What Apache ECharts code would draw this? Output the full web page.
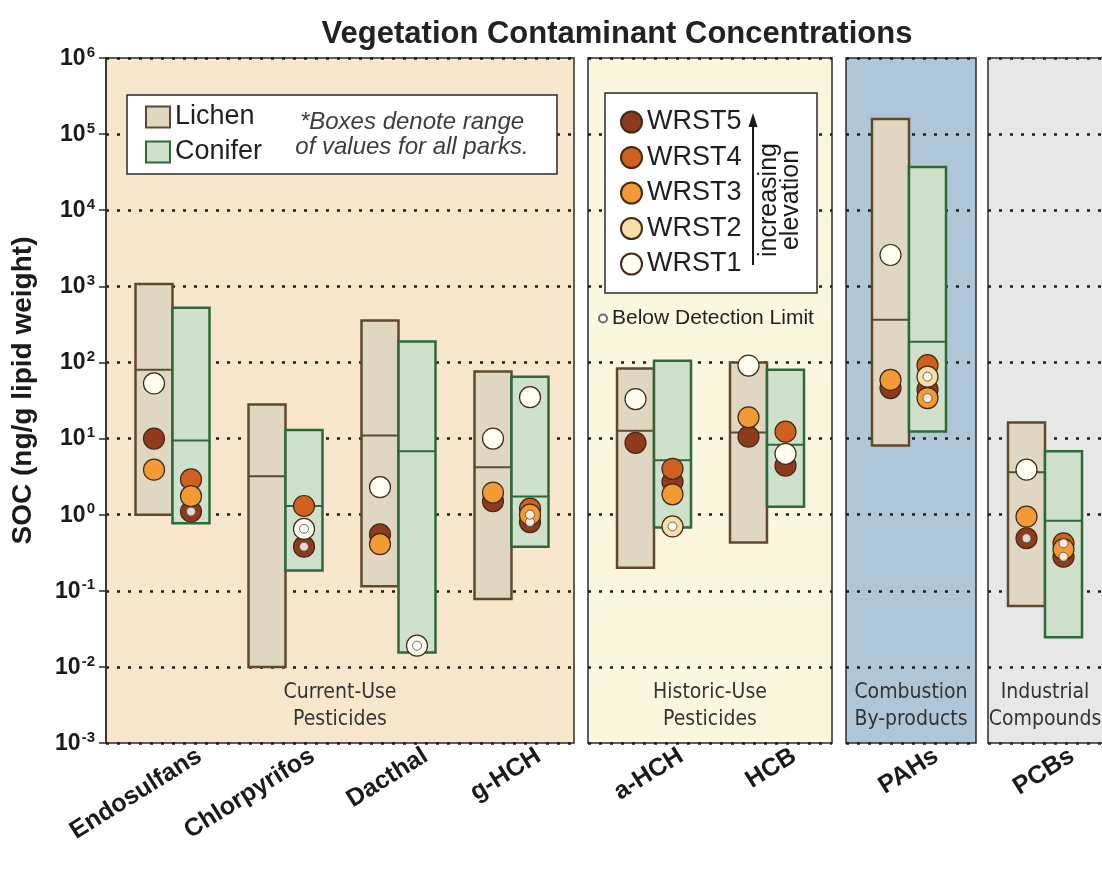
<!DOCTYPE html>
<html>
<head>
<meta charset="utf-8">
<title>Vegetation Contaminant Concentrations</title>
<script src="https://cdn.jsdelivr.net/npm/echarts@6/dist/echarts.min.js"></script>
<style>
  html, body { margin: 0; padding: 0; background: #ffffff; }
  #chart { width: 1102px; height: 870px; }
</style>
</head>
<body>
<div id="chart"></div>
<script>
// ---- Data -------------------------------------------------------------
const categories = ['Endosulfans', 'Chlorpyrifos', 'Dacthal', 'g-HCH', 'a-HCH', 'HCB', 'PAHs', 'PCBs'];
const groupNames = ['Current-Use\nPesticides', 'Historic-Use\nPesticides', 'Combustion\nBy-products', 'Industrial\nCompounds'];
const groupMembers = [[0, 1, 2, 3], [4, 5], [6], [7]];
const stations = ['WRST5', 'WRST4', 'WRST3', 'WRST2', 'WRST1'];
const tickExponents = [-3, -2, -1, 0, 1, 2, 3, 4, 5, 6];

// Range of values for all parks (ng/g lipid weight)
const lichenLow   = [1.0, 0.01, 0.115, 0.078, 0.2, 0.43, 8.1, 0.063];
const lichenHigh  = [1070, 28, 355, 76, 83, 100, 158000, 16.3];
const lichenMid   = [80, 3.2, 11, 4.2, 12.7, 12, 363, 3.6];
const coniferLow  = [0.77, 0.185, 0.0155, 0.38, 0.68, 1.27, 12.4, 0.0245];
const coniferHigh = [525, 13, 188, 65, 105, 80, 37000, 6.8];
const coniferMid  = [9.4, 1.3, 6.8, 1.73, 5.2, 8.3, 187, 0.83];

// Wrangell-St. Elias site values
const lichenWRST5 = [10, null, 0.55, 1.5, 8.8, 10.6, 46, 0.49];
const lichenWRST4 = [null, null, null, null, null, null, null, null];
const lichenWRST3 = [3.9, null, 0.41, 1.95, null, 19, 59, 0.94];
const lichenWRST2 = [null, null, null, null, null, null, null, null];
const lichenWRST1 = [53, null, 2.3, 10, 33, 91, 2580, 3.9];
const coniferWRST5 = [1.1, 0.38, null, 0.8, 2.7, 4.4, 44, 0.28];
const coniferWRST4 = [2.9, 1.3, null, 1.2, 4.0, 12.3, 92, 0.42];
const coniferWRST3 = [1.75, null, null, 1.0, 1.85, null, 34, 0.35];
const coniferWRST2 = [null, null, null, null, 0.7, null, 65, null];
const coniferWRST1 = [null, 0.65, 0.019, 35, null, 6.3, null, null];

// Sites below detection limit, per compound
const lichenBDL  = [[], [], [], [], [], [], [], ['WRST5']];
const coniferBDL = [['WRST5'], ['WRST1', 'WRST5'], ['WRST1'], ['WRST5', 'WRST3'], ['WRST2'], [], ['WRST2', 'WRST3'], ['WRST4', 'WRST5']];

// ---- Styling / layout -------------------------------------------------
const FONT = 'Liberation Sans, Arial, Helvetica, sans-serif';
const NARROW = 'Liberation Sans Narrow, DejaVu Sans Condensed, Liberation Sans, sans-serif';
const TOP = 58, HEIGHT = 685;
// panel frames: [left, right]; the last one runs past the canvas edge
const panelSpan = [[106, 574], [588, 832], [846, 976], [988, 1118]];
const dataSpan = [[116, 568], [597.5, 823.5], [852.5, 965.5], [988.5, 1101.5]];
const panelFill = ['#f8e7cc', '#faf7de', '#afc6d8', '#e7e7e8'];
const BOX_W = 37;
const boxStyle = {
  lichen: { fill: '#e0d7c3', stroke: '#5f4a2e' },
  conifer: { fill: '#cfe0cb', stroke: '#2d6a3a' }
};
const stationColor = {
  WRST5: '#8e3b1c', WRST4: '#d0601f', WRST3: '#f29a35', WRST2: '#f7dda6', WRST1: '#fffdf1'
};

const siteValues = {
  lichen: { WRST5: lichenWRST5, WRST4: lichenWRST4, WRST3: lichenWRST3, WRST2: lichenWRST2, WRST1: lichenWRST1 },
  conifer: { WRST5: coniferWRST5, WRST4: coniferWRST4, WRST3: coniferWRST3, WRST2: coniferWRST2, WRST1: coniferWRST1 }
};
const ranges = {
  lichen: { low: lichenLow, high: lichenHigh, mid: lichenMid },
  conifer: { low: coniferLow, high: coniferHigh, mid: coniferMid }
};
const bdl = { lichen: lichenBDL, conifer: coniferBDL };

// ---- Grids and axes ---------------------------------------------------
const grids = [], xAxes = [], yAxes = [];
const logAxisBase = { type: 'log', logBase: 10, min: 1e-3, max: 1e6, interval: 1 };
const lastPanel = panelSpan.length - 1;

panelSpan.forEach(([l, r], p) => {
  grids.push({ left: l, width: r - l, top: TOP, height: HEIGHT, show: true,
    backgroundColor: panelFill[p], borderColor: '#2b2b2b', borderWidth: p === lastPanel ? 0 : 1.5 });
  xAxes.push({ gridIndex: p, type: 'value', min: 0, max: 1, show: false });
  yAxes.push(Object.assign({}, logAxisBase, {
    gridIndex: p,
    axisLine: { show: p === 0, lineStyle: { color: '#2b2b2b', width: 1.5 } },
    axisTick: { show: p === 0, length: 7, lineStyle: { color: '#2b2b2b', width: 1.5 } },
    axisLabel: p === 0 ? {
      margin: 11,
      formatter: v => '{b|10}{s|' + tickExponents[Math.round(Math.log10(v)) + 3] + '}',
      rich: {
        b: { fontFamily: FONT, fontSize: 23, fontWeight: 'bold', color: '#1a1a1a', verticalAlign: 'bottom', lineHeight: 24 },
        s: { fontFamily: FONT, fontSize: 15, fontWeight: 'bold', color: '#1a1a1a', verticalAlign: 'bottom', lineHeight: 24, padding: [0, 0, 10, 1] }
      }
    } : { show: false },
    name: p === 0 ? 'SOC (ng/g lipid weight)' : '',
    nameLocation: 'middle',
    nameGap: 69,
    nameTextStyle: { fontFamily: FONT, fontSize: 28, fontWeight: 'bold', color: '#1a1a1a', padding: [0, 0, 0, 20] },
    splitLine: { show: true, lineStyle: { type: [3, 8], width: 2.5, color: '#1c1c1c' } }
  }));
});

dataSpan.forEach(([l, r], p) => {
  const gi = 4 + p;
  grids.push({ left: l, width: r - l, top: TOP, height: HEIGHT });
  xAxes.push({
    gridIndex: gi, type: 'category',
    data: groupMembers[p].map(i => categories[i]),
    axisLine: { show: false }, axisTick: { show: false },
    axisLabel: { rotate: 32, margin: 28, padding: [0, -32, 0, 0], fontFamily: FONT, fontSize: 25,
      fontWeight: 'bold', color: '#1a1a1a', interval: 0 }
  });
  yAxes.push(Object.assign({}, logAxisBase, { gridIndex: gi, show: false, splitLine: { show: false } }));
});

// ---- Series -----------------------------------------------------------
function boxRenderer(type) {
  const st = boxStyle[type];
  const side = type === 'lichen' ? -1 : 1;
  return function (params, api) {
    const c = api.value(0);
    const lo = api.coord([c, api.value(1)]);
    const hi = api.coord([c, api.value(2)]);
    const md = api.coord([c, api.value(3)]);
    const x0 = side < 0 ? lo[0] - BOX_W : lo[0];
    return {
      type: 'group',
      children: [
        { type: 'rect', shape: { x: x0, y: hi[1], width: BOX_W, height: lo[1] - hi[1] },
          style: { fill: st.fill, stroke: st.stroke, lineWidth: 2.5 } },
        { type: 'line', shape: { x1: x0, y1: md[1], x2: x0 + BOX_W, y2: md[1] },
          style: { stroke: st.stroke, lineWidth: 2 } }
      ]
    };
  };
}

const series = [];
groupMembers.forEach((members, p) => {
  const gi = 4 + p;
  ['lichen', 'conifer'].forEach(type => {
    const r = ranges[type];
    series.push({
      type: 'custom', name: type === 'lichen' ? 'Lichen' : 'Conifer',
      xAxisIndex: gi, yAxisIndex: gi, z: 2, silent: true,
      itemStyle: { color: boxStyle[type].fill, borderColor: boxStyle[type].stroke, borderWidth: 2 },
      renderItem: boxRenderer(type),
      encode: { x: 0, y: [1, 2, 3] },
      data: members.map((ci, k) => [k, r.low[ci], r.high[ci], r.mid[ci]])
    });
  });
  ['lichen', 'conifer'].forEach(type => {
    const off = type === 'lichen' ? -BOX_W / 2 : BOX_W / 2;
    stations.forEach(st => {
      const vals = siteValues[type][st];
      const data = [];
      members.forEach((ci, k) => { if (vals[ci] != null) data.push([k, vals[ci]]); });
      series.push({
        type: 'scatter', name: st, xAxisIndex: gi, yAxisIndex: gi, z: 3, silent: true,
        symbol: 'circle', symbolSize: 21, symbolOffset: [off, 0],
        itemStyle: { color: stationColor[st], borderColor: '#3f2a18', borderWidth: 1.2, opacity: 1 },
        data
      });
    });
    const bdlData = [];
    members.forEach((ci, k) => {
      bdl[type][ci].forEach(st => bdlData.push([k, siteValues[type][st][ci]]));
    });
    series.push({
      type: 'scatter', name: 'Below Detection Limit', xAxisIndex: gi, yAxisIndex: gi, z: 4, silent: true,
      symbol: 'circle', symbolSize: 9, symbolOffset: [off, 0],
      itemStyle: { color: '#ffffff', borderColor: '#4a4a4a', borderWidth: 1 },
      data: bdlData
    });
  });
});

// ---- Annotations --------------------------------------------------------
const [p4l, p4r] = panelSpan[lastPanel];
const graphics = [
  // open-ended frame of the last panel (it continues past the right edge)
  { type: 'polyline', z: 1, shape: { points: [[p4r, TOP], [p4l, TOP], [p4l, TOP + HEIGHT], [p4r, TOP + HEIGHT]] },
    style: { stroke: '#2b2b2b', lineWidth: 1.5, fill: null } },
  { type: 'rect', z: 10, shape: { x: 127, y: 95, width: 430, height: 79 },
    style: { fill: '#ffffff', stroke: '#2b2b2b', lineWidth: 1.5 } },
  { type: 'text', z: 12, x: 412, y: 135,
    style: { text: '*Boxes denote range\nof values for all parks.', fontFamily: FONT, fontStyle: 'italic',
      fontSize: 24, lineHeight: 25, fill: '#3d3d3d', align: 'center', verticalAlign: 'middle' } },
  { type: 'rect', z: 10, shape: { x: 605, y: 93, width: 212, height: 200 },
    style: { fill: '#ffffff', stroke: '#2b2b2b', lineWidth: 1.5 } },
  { type: 'line', z: 12, shape: { x1: 753, y1: 265, x2: 753, y2: 124 },
    style: { stroke: '#1a1a1a', lineWidth: 2 } },
  { type: 'polygon', z: 12, shape: { points: [[753, 113], [748.5, 127], [757.5, 127]] },
    style: { fill: '#1a1a1a' } },
  { type: 'text', z: 12, x: 780, y: 200, rotation: Math.PI / 2,
    style: { text: 'increasing\nelevation', fontFamily: FONT, fontSize: 25, lineHeight: 22,
      fill: '#1a1a1a', align: 'center', verticalAlign: 'middle' } }
];
panelSpan.forEach(([l, r], p) => {
  const cx = p === lastPanel ? 1045 : (l + r) / 2;
  graphics.push({ type: 'text', z: 5, x: cx, y: 706,
    style: { text: groupNames[p], fontFamily: NARROW, fontSize: 21, lineHeight: 27,
      fill: '#333333', align: 'center', verticalAlign: 'middle' } });
});

const chart = echarts.init(document.getElementById('chart'), null, { renderer: 'canvas' });
chart.setOption({
  animation: false,
  backgroundColor: '#ffffff',
  textStyle: { fontFamily: FONT },
  title: {
    text: 'Vegetation Contaminant Concentrations', left: 612, top: 14, textAlign: 'center',
    textStyle: { fontFamily: FONT, fontSize: 31, fontWeight: 'bold', color: '#222222' }
  },
  legend: [
    {
      orient: 'vertical', left: 145, top: 103.5, padding: 0, itemGap: 8, itemWidth: 24, itemHeight: 21,
      icon: 'rect', selectedMode: false, z: 11,
      textStyle: { fontFamily: FONT, fontSize: 27, lineHeight: 27, color: '#1f1f1f' },
      data: [
        { name: 'Lichen', itemStyle: { color: boxStyle.lichen.fill, borderColor: boxStyle.lichen.stroke, borderWidth: 2 } },
        { name: 'Conifer', itemStyle: { color: boxStyle.conifer.fill, borderColor: boxStyle.conifer.stroke, borderWidth: 2 } }
      ]
    },
    {
      orient: 'vertical', left: 620, top: 108.5, padding: 0, itemGap: 8.5, itemWidth: 21, itemHeight: 21,
      icon: 'circle', selectedMode: false, z: 11,
      textStyle: { fontFamily: FONT, fontSize: 27, lineHeight: 27, color: '#1f1f1f' },
      data: stations
    },
    {
      orient: 'vertical', left: 598, top: 308, padding: 0, itemWidth: 8, itemHeight: 8,
      icon: 'circle', selectedMode: false, z: 11,
      textStyle: { fontFamily: FONT, fontSize: 21, color: '#1f1f1f' },
      data: ['Below Detection Limit']
    }
  ],
  grid: grids,
  xAxis: xAxes,
  yAxis: yAxes,
  series,
  graphic: { elements: graphics }
});
</script>
</body>
</html>
